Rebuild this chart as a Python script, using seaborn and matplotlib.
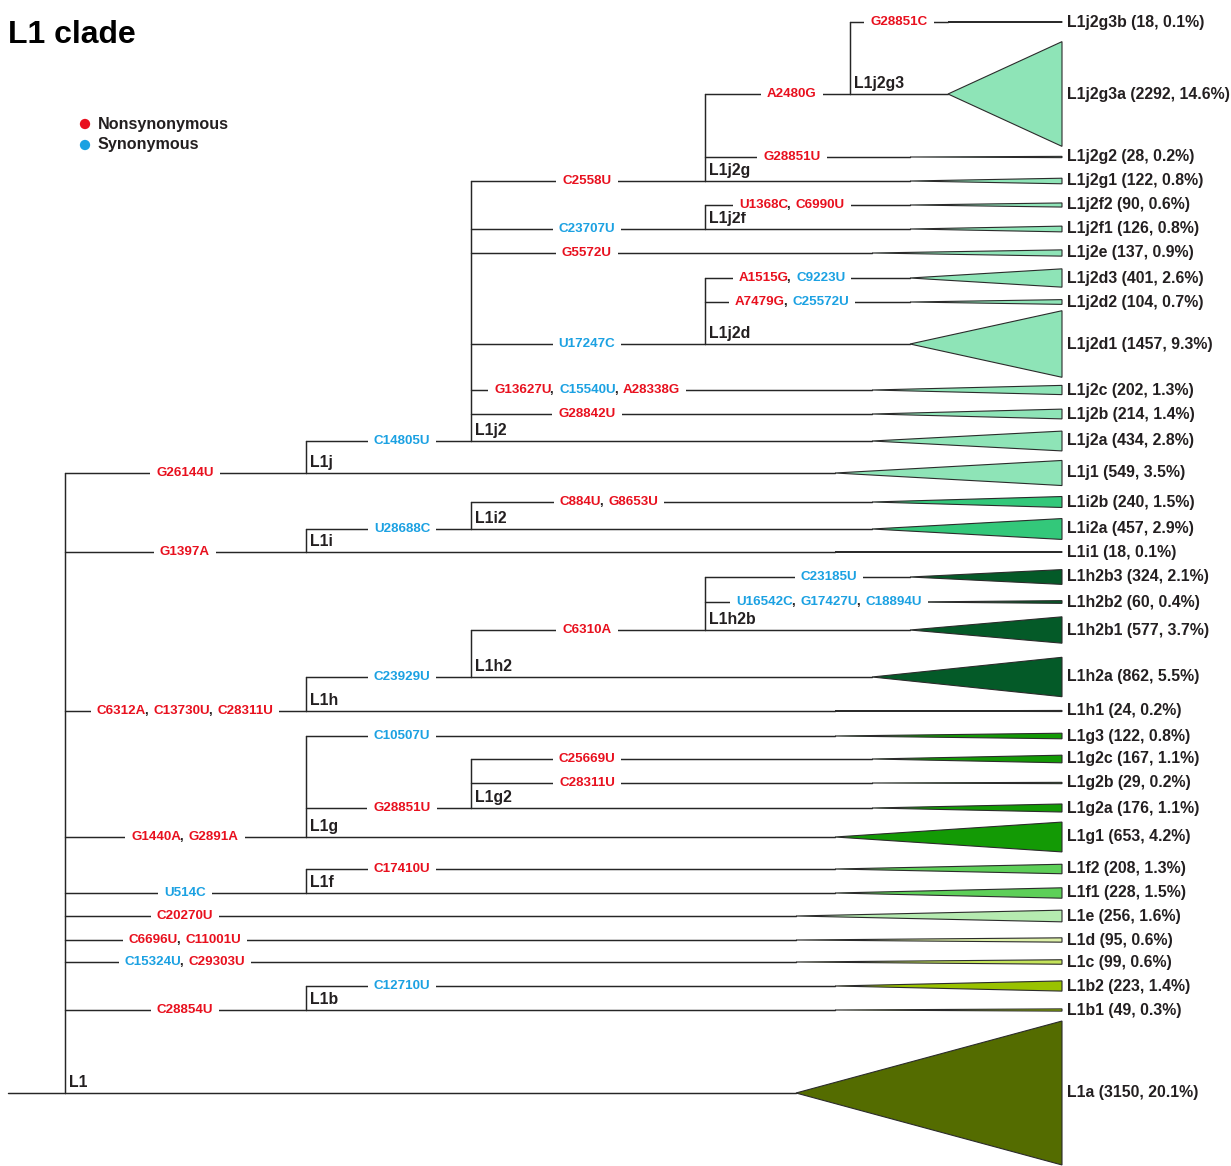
import matplotlib
matplotlib.use("Agg")
import matplotlib.pyplot as plt
from matplotlib.patches import Rectangle
import seaborn as sns
import pandas as pd

# ---- tree topology (children listed top to bottom) ----
CHILDREN = {
    "L1": ["L1j", "L1i", "L1h", "L1g", "L1f", "L1e", "L1d", "L1c", "L1b", "L1a"],
    "L1j": ["L1j2", "L1j1"],
    "L1j2": ["L1j2g", "L1j2f", "L1j2e", "L1j2d", "L1j2c", "L1j2b", "L1j2a"],
    "L1j2g": ["L1j2g3", "L1j2g2", "L1j2g1"],
    "L1j2g3": ["L1j2g3b", "L1j2g3a"],
    "L1j2f": ["L1j2f2", "L1j2f1"],
    "L1j2d": ["L1j2d3", "L1j2d2", "L1j2d1"],
    "L1i": ["L1i2", "L1i1"],
    "L1i2": ["L1i2b", "L1i2a"],
    "L1h": ["L1h2", "L1h1"],
    "L1h2": ["L1h2b", "L1h2a"],
    "L1h2b": ["L1h2b3", "L1h2b2", "L1h2b1"],
    "L1g": ["L1g3", "L1g2", "L1g1"],
    "L1g2": ["L1g2c", "L1g2b", "L1g2a"],
    "L1f": ["L1f2", "L1f1"],
    "L1b": ["L1b2", "L1b1"],
}

# ---- leaf data ----
LEAVES = ["L1j2g3b", "L1j2g3a", "L1j2g2", "L1j2g1", "L1j2f2", "L1j2f1", "L1j2e",
          "L1j2d3", "L1j2d2", "L1j2d1", "L1j2c", "L1j2b", "L1j2a", "L1j1",
          "L1i2b", "L1i2a", "L1i1", "L1h2b3", "L1h2b2", "L1h2b1", "L1h2a", "L1h1",
          "L1g3", "L1g2c", "L1g2b", "L1g2a", "L1g1", "L1f2", "L1f1",
          "L1e", "L1d", "L1c", "L1b2", "L1b1", "L1a"]
COUNTS = [18, 2292, 28, 122, 90, 126, 137, 401, 104, 1457, 202, 214, 434, 549,
          240, 457, 18, 324, 60, 577, 862, 24,
          122, 167, 29, 176, 653, 208, 228,
          256, 95, 99, 223, 49, 3150]
PCTS = [0.1, 14.6, 0.2, 0.8, 0.6, 0.8, 0.9, 2.6, 0.7, 9.3, 1.3, 1.4, 2.8, 3.5,
        1.5, 2.9, 0.1, 2.1, 0.4, 3.7, 5.5, 0.2,
        0.8, 1.1, 0.2, 1.1, 4.2, 1.3, 1.5,
        1.6, 0.6, 0.6, 1.4, 0.3, 20.1]

# ---- mutations on the branch leading to each node ----
MUTATIONS = {
    "L1j": ["G26144U"], "L1i": ["G1397A"], "L1h": ["C6312A", "C13730U", "C28311U"],
    "L1g": ["G1440A", "G2891A"], "L1f": ["U514C"], "L1e": ["C20270U"],
    "L1d": ["C6696U", "C11001U"], "L1c": ["C15324U", "C29303U"], "L1b": ["C28854U"],
    "L1j2": ["C14805U"], "L1j2g": ["C2558U"], "L1j2f": ["C23707U"], "L1j2e": ["G5572U"],
    "L1j2d": ["U17247C"], "L1j2c": ["G13627U", "C15540U", "A28338G"], "L1j2b": ["G28842U"],
    "L1j2g3": ["A2480G"], "L1j2g2": ["G28851U"], "L1j2g3b": ["G28851C"],
    "L1j2f2": ["U1368C", "C6990U"], "L1j2d3": ["A1515G", "C9223U"],
    "L1j2d2": ["A7479G", "C25572U"], "L1i2": ["U28688C"], "L1i2b": ["C884U", "G8653U"],
    "L1h2": ["C23929U"], "L1h2b": ["C6310A"], "L1h2b3": ["C23185U"],
    "L1h2b2": ["U16542C", "G17427U", "C18894U"], "L1g3": ["C10507U"], "L1g2": ["G28851U"],
    "L1g2c": ["C25669U"], "L1g2b": ["C28311U"], "L1f2": ["C17410U"], "L1b2": ["C12710U"],
}
SYNONYMOUS = {"C14805U", "U28688C", "C23929U", "C10507U", "U514C", "C15324U", "C12710U",
              "C23707U", "U17247C", "C15540U", "C9223U", "C25572U", "C23185U",
              "U16542C", "G17427U", "C18894U"}

# ---- layout (pixels) ----
LEAF_ROW_Y = [22, 94, 157, 181, 205, 229, 253, 278, 302, 344, 390, 414, 441, 473,
              502, 529, 552, 577, 602, 630, 677, 711,
              736, 759, 783, 808, 837, 869, 893, 916, 940, 962, 986, 1010, 1093]
NODE_X = [65, 306, 471, 705, 850]           # x of internal node by depth
APEX_X = [758, 796, 835, 872, 910, 948]     # triangle apex by leaf depth
MUT_X = [0, 185, 402, 587, 792, 899]        # mutation label centre by depth
MUT_X_FIX = {"L1i2b": 609, "L1h2b3": 829, "L1h2b2": 829}
TIP_X = 1062
PX_PER_SEQ = 0.0457

CLADE_COLORS = {"L1j": "#8EE4B7", "L1i": "#33C87A", "L1h": "#045A28", "L1g": "#139A05",
                "L1f": "#5DCF58", "L1e": "#B5EBB0", "L1d": "#DDF0A8", "L1c": "#C4E35A",
                "L1b": "#99C200", "L1a": "#546C00"}
RED, BLUE, INK = "#E8101E", "#1BA1E2", "#231F20"
LINE = "#262626"

sns.set_theme(style="white")
plt.rcParams["font.family"] = ["Liberation Sans", "DejaVu Sans"]

leaf_y = dict(zip(LEAVES, LEAF_ROW_Y))
leaf_n = dict(zip(LEAVES, COUNTS))
leaf_p = dict(zip(LEAVES, PCTS))

node_y, depth = {}, {"L1": 0}


def place(node):
    if node in leaf_y:
        node_y[node] = leaf_y[node]
        return node_y[node]
    for c in CHILDREN[node]:
        depth[c] = depth[node] + 1
        place(c)
    node_y[node] = node_y[CHILDREN[node][-1]]
    return node_y[node]


place("L1")

fig = plt.figure(figsize=(12.31, 11.66), dpi=100)
ax = fig.add_axes([0, 0, 1, 1])
ax.set_xlim(0, 1231)
ax.set_ylim(1166, 0)
ax.axis("off")
renderer = fig.canvas.get_renderer()

# collect branch segments
segs = [(8, node_y["L1"], NODE_X[0], node_y["L1"])]
for parent, kids in CHILDREN.items():
    px = NODE_X[depth[parent]]
    segs.append((px, node_y[kids[0]], px, node_y[kids[-1]]))
    for c in kids:
        end = APEX_X[depth[c]] if c in leaf_y else NODE_X[depth[c]]
        segs.append((px, node_y[c], end, node_y[c]))

rows = []
for i, (x0, y0, x1, y1) in enumerate(segs):
    rows.append({"seg": i, "x": x0, "y": y0})
    rows.append({"seg": i, "x": x1, "y": y1})
df = pd.DataFrame(rows)
sns.lineplot(data=df, x="x", y="y", units="seg", estimator=None, sort=False,
             color=LINE, linewidth=1.05, ax=ax, legend=False)

# collapsed clades as triangles
for name in LEAVES:
    y = leaf_y[name]
    h = leaf_n[name] * PX_PER_SEQ
    ax.fill([APEX_X[depth[name]], TIP_X, TIP_X], [y, y - h / 2, y + h / 2],
            facecolor=CLADE_COLORS[name[:3]], edgecolor="#2b2b2b", linewidth=0.8, zorder=3)
    ax.text(TIP_X + 5, y, f"{name} ({leaf_n[name]}, {leaf_p[name]:.1f}%)",
            ha="left", va="center", fontsize=11.4, fontweight="bold", color=INK)

# internal node names
for node in CHILDREN:
    ax.text(NODE_X[depth[node]] + 4, node_y[node] - 3, node, ha="left", va="bottom",
            fontsize=11.4, fontweight="bold", color=INK)

# mutation labels: word by word, coloured by type, on a white gap in the branch
mfont = dict(fontsize=9.6, fontweight="bold")


def text_width(s):
    t = ax.text(0, 0, s, **mfont)
    w = t.get_window_extent(renderer).width
    t.remove()
    return w


for node, muts in MUTATIONS.items():
    full = ", ".join(muts)
    x = MUT_X_FIX.get(node, MUT_X[depth[node]])
    y = node_y[node]
    w = text_width(full)
    left = x - w / 2
    ax.add_patch(Rectangle((left - 6, y - 7), w + 12, 14, facecolor="white",
                           edgecolor="none", zorder=4))
    prefix = ""
    for i, m in enumerate(muts):
        off = text_width(prefix + m) - text_width(m) if prefix else 0
        ax.text(left + off, y, m, ha="left", va="center", zorder=5,
                color=BLUE if m in SYNONYMOUS else RED, **mfont)
        prefix += m
        if i < len(muts) - 1:
            off = text_width(prefix + ",") - text_width(",") - 2
            ax.text(left + off, y, ",", ha="left", va="center", zorder=5, color=INK, **mfont)
            prefix += ", "

# title and legend
ax.text(8, 35, "L1 clade", ha="left", va="center", fontsize=23, fontweight="bold", color="black")
leg = pd.DataFrame({"x": [85, 85], "y": [124, 145], "kind": ["Nonsynonymous", "Synonymous"]})
sns.scatterplot(data=leg, x="x", y="y", hue="kind", palette=[RED, BLUE], s=55,
                edgecolor="none", legend=False, ax=ax)
for _, r in leg.iterrows():
    ax.text(r["x"] + 13, r["y"], r["kind"], ha="left", va="center", fontsize=11.6,
            fontweight="bold", color=INK)

ax.set_xlim(0, 1231)
ax.set_ylim(1166, 0)
fig.savefig("out.png", dpi=100)
